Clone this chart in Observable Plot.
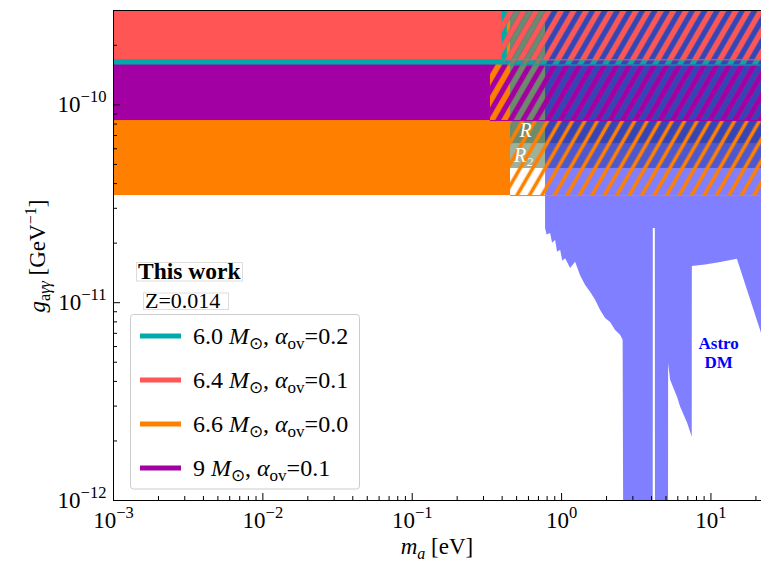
<!DOCTYPE html>
<html>
<head>
<meta charset="utf-8">
<script src="https://cdn.jsdelivr.net/npm/d3@7"></script>
<script src="https://cdn.jsdelivr.net/npm/@observablehq/plot@0.6"></script>
<style>
  body { margin: 0; background: #fff; }
  #chart { width: 761px; height: 569px; }
</style>
</head>
<body>
<div id="chart"></div>
<script>
// Axis ranges: axion mass (eV) and axion-photon coupling (GeV^-1)
const massDomain = [1e-3, 21.8];
const couplingDomain = [1e-12, 3e-10];

// Stellar models, legend order: couplings above modelCoupling are excluded,
// as a firm bound below modelMassCut and hatched above it
const modelMass = ["6.0", "6.4", "6.6", "9"];
const modelOvershoot = ["0.2", "0.1", "0.0", "0.1"];
const modelCoupling = [1.59e-10, 1.69e-10, 3.48e-11, 8.33e-11];
const modelMassCut = [0.433, 0.40, 0.455, 0.334];
const modelColors = ["#00AAAA", "#FF5555", "#FF8000", "#A300A3"];
const drawOrder = [2, 3, 0, 1];

// R and R2 globular-cluster bounds
const rLabels = ["R", "R\u2082"];
const rCoupling = [6.37e-11, 4.77e-11];
const rMassMin = [0.455, 0.455];
const rLabelMass = [0.574, 0.557];
const rLabelCoupling = [7.41e-11, 5.55e-11];

// Astrophysical dark-matter searches: lower edge of the excluded region
const dmMass = [0.781, 0.800, 0.844, 0.870, 0.912, 0.940, 0.985, 1.020, 1.064, 1.149, 1.241, 1.340, 1.448, 1.564,
  1.690, 1.825, 1.971, 2.129, 2.300, 2.484, 2.582, 2.602, 4.107, 4.113, 4.243, 4.250,
  5.200, 5.208, 5.37, 5.98, 6.27, 6.98, 7.496, 7.506, 9.215, 11.61, 15.03, 21.8];
const dmCoupling = [2.37e-11, 2.20e-11, 2.24e-11, 2.00e-11, 2.06e-11, 1.80e-11, 1.84e-11, 1.62e-11, 1.67e-11, 1.49e-11, 1.60e-11,
  1.37e-11, 1.22e-11, 1.13e-11, 1.03e-11, 9.14e-12, 8.33e-12, 7.95e-12, 7.24e-12, 6.84e-12,
  6.45e-12, 1e-12, 1e-12, 2.37e-11, 2.37e-11, 1e-12, 1e-12, 4.93e-12, 4.05e-12, 3.32e-12,
  2.96e-12, 2.46e-12, 2.09e-12, 1.525e-11, 1.552e-11, 1.598e-11, 1.656e-11, 7.0e-12];
const dmLabel = {m: 11.26, g: 5.58e-12, text: "Astro\nDM"};

// Tick positions
const decadesX = [1e-3, 1e-2, 1e-1, 1, 10];
const decadesY = [1e-12, 1e-11, 1e-10];
const minorX = decadesX.flatMap(d => d3.range(2, 10).map(k => k * d)).filter(v => v <= massDomain[1]);
const minorY = decadesY.flatMap(d => d3.range(2, 10).map(k => k * d)).filter(v => v <= couplingDomain[1]);

const serif = "'Liberation Serif', 'Times New Roman', serif";
const gTop = couplingDomain[1];

const width = 761, height = 569;
const margin = {top: 10, right: 0, bottom: 69, left: 113};
const plotW = width - margin.left - margin.right;
const plotH = height - margin.top - margin.bottom;

const models = modelMass.map((_, i) => ({i, g: modelCoupling[i], m: modelMassCut[i]}));
const rBands = rLabels.map((label, i) => ({label, g: rCoupling[i], m: rMassMin[i], lm: rLabelMass[i], lg: rLabelCoupling[i]}));
const dm = dmMass.map((m, i) => ({m, g: dmCoupling[i]}));

const marks = [];
// R, R2 regions
marks.push(Plot.rect(rBands, {x1: "m", x2: () => massDomain[1], y1: "g", y2: () => gTop, fill: "#3c643c", fillOpacity: 0.5}));
// Astro DM region
marks.push(Plot.areaY(dm, {x: "m", y1: "g", y2: () => gTop, fill: "blue", fillOpacity: 0.5, curve: "linear"}));
// each stellar model: firm bound, then hatched continuation
for (const i of drawOrder) {
  marks.push(Plot.rect([models[i]], {x1: () => massDomain[0], x2: "m", y1: "g", y2: () => gTop, fill: modelColors[i]}));
  marks.push(Plot.rect([models[i]], {x1: "m", x2: () => massDomain[1], y1: "g", y2: () => gTop, fill: `url(#hatch-${i})`}));
  marks.push(Plot.ruleY([models[i]], {x1: "m", x2: () => massDomain[1], y: "g", stroke: modelColors[i], strokeWidth: 1}));
}
marks.push(Plot.text(rBands, {x: "lm", y: "lg", text: "label", fill: "white", fontStyle: "italic", fontSize: 20, fontFamily: serif}));
marks.push(Plot.text([dmLabel], {x: "m", y: "g", text: "text", fill: "blue", fontWeight: "bold", fontSize: 17, fontFamily: serif, lineHeight: 1.1}));

// spines
marks.push(Plot.ruleX([massDomain[0]], {stroke: "black"}));
marks.push(Plot.ruleY([couplingDomain[0]], {stroke: "black"}));
marks.push(Plot.ruleY([couplingDomain[1]], {stroke: "black"}));

// inward ticks along the bottom and left spines
marks.push(Plot.ruleX(minorX, {insetTop: plotH - 4, stroke: "black"}));
marks.push(Plot.ruleX(decadesX, {insetTop: plotH - 7, stroke: "black"}));
marks.push(Plot.ruleY(minorY, {insetRight: plotW - 4, stroke: "black"}));
marks.push(Plot.ruleY(decadesY, {insetRight: plotW - 7, stroke: "black"}));

// tick labels
marks.push(Plot.axisX(decadesX, {tickSize: 0, tickPadding: 11, tickFormat: d => String(Math.round(Math.log10(d))), label: null, fontSize: 23, fontFamily: serif}));
marks.push(Plot.axisY(decadesY, {tickSize: 0, tickPadding: 7, tickFormat: d => String(Math.round(Math.log10(d))), label: null, fontSize: 23, fontFamily: serif}));

const chart = Plot.plot({
  width, height,
  marginLeft: margin.left,
  marginRight: margin.right,
  marginTop: margin.top,
  marginBottom: margin.bottom,
  x: {type: "log", domain: massDomain},
  y: {type: "log", domain: couplingDomain},
  style: {fontFamily: serif, background: "white", color: "black", overflow: "visible"},
  marks
});

const svg = d3.select(chart);

// hatch patterns, all sharing one phase so later stripes cover earlier ones
const defs = svg.insert("defs", ":first-child");
const period = 10.8;
modelColors.forEach((c, i) => {
  const w = i === 2 ? 3.6 : 5.2;
  const p = defs.append("pattern")
    .attr("id", `hatch-${i}`)
    .attr("patternUnits", "userSpaceOnUse")
    .attr("width", period).attr("height", period)
    .attr("patternTransform", "rotate(30)");
  p.append("rect").attr("x", (period - w) / 2).attr("y", 0).attr("width", w).attr("height", period).attr("fill", c);
});

// exponent labels: 10 with superscript power
function powerLabels(sel) {
  sel.each(function () {
    const t = d3.select(this);
    const e = t.text().replace("-", "\u2212");
    if (!e) return;
    t.text("");
    t.append("tspan").text("10");
    t.append("tspan").attr("font-size", "0.72em").attr("dy", "-0.62em").text(e);
  });
}
powerLabels(svg.selectAll('g[aria-label="x-axis tick label"] text'));
powerLabels(svg.selectAll('g[aria-label="y-axis tick label"] text'));

// axis titles
const xt = svg.append("text").attr("x", 437).attr("y", 554).attr("text-anchor", "middle")
  .attr("font-family", serif).attr("font-size", 23);
xt.append("tspan").attr("font-style", "italic").text("m");
xt.append("tspan").attr("font-style", "italic").attr("font-size", 16).attr("dy", 5).text("a");
xt.append("tspan").attr("dy", -5).text(" [eV]");

const yt = svg.append("text").attr("transform", "translate(45,256) rotate(-90)").attr("text-anchor", "middle")
  .attr("font-family", serif).attr("font-size", 23);
yt.append("tspan").attr("font-style", "italic").text("g");
yt.append("tspan").attr("font-size", 16).attr("dy", 5).text("a");
yt.append("tspan").attr("font-size", 16).attr("font-style", "italic").text("\u03b3\u03b3");
yt.append("tspan").attr("dy", -5).text(" [GeV");
yt.append("tspan").attr("font-size", 16).attr("dy", -9).text("\u22121");
yt.append("tspan").attr("dy", 9).text("]");

// legend
const lg = svg.append("g").attr("font-family", serif).attr("text-anchor", "start");
lg.append("rect").attr("x", 136.5).attr("y", 262.5).attr("width", 106).attr("height", 18.5)
  .attr("fill", "white").attr("stroke", "#dddddd");
lg.append("text").attr("x", 138).attr("y", 279).attr("font-size", 23.5).attr("font-weight", "bold").text("This work");
lg.append("rect").attr("x", 143.5).attr("y", 293).attr("width", 85).attr("height", 16.5)
  .attr("fill", "white").attr("stroke", "#dddddd");
lg.append("text").attr("x", 145).attr("y", 308).attr("font-size", 22).text("Z=0.014");
lg.append("rect").attr("x", 130.5).attr("y", 314.5).attr("width", 229).attr("height", 174.5).attr("rx", 3)
  .attr("fill", "white").attr("stroke", "#cccccc");
modelMass.forEach((m, i) => {
  const cy = 336 + i * 44;
  lg.append("line").attr("x1", 140).attr("x2", 181).attr("y1", cy).attr("y2", cy)
    .attr("stroke", modelColors[i]).attr("stroke-width", 5);
  const t = lg.append("text").attr("x", 193).attr("y", cy + 7.5).attr("font-size", 24);
  t.append("tspan").text(m + " ");
  t.append("tspan").attr("font-style", "italic").text("M");
  t.append("tspan").attr("font-size", 17).attr("dy", 5).text("\u2299");
  t.append("tspan").attr("dy", -5).text(", ");
  t.append("tspan").attr("font-style", "italic").text("\u03b1");
  t.append("tspan").attr("font-size", 17).attr("dy", 5).text("ov");
  t.append("tspan").attr("dy", -5).text("=" + modelOvershoot[i]);
});

document.getElementById("chart").append(chart);
</script>
</body>
</html>
